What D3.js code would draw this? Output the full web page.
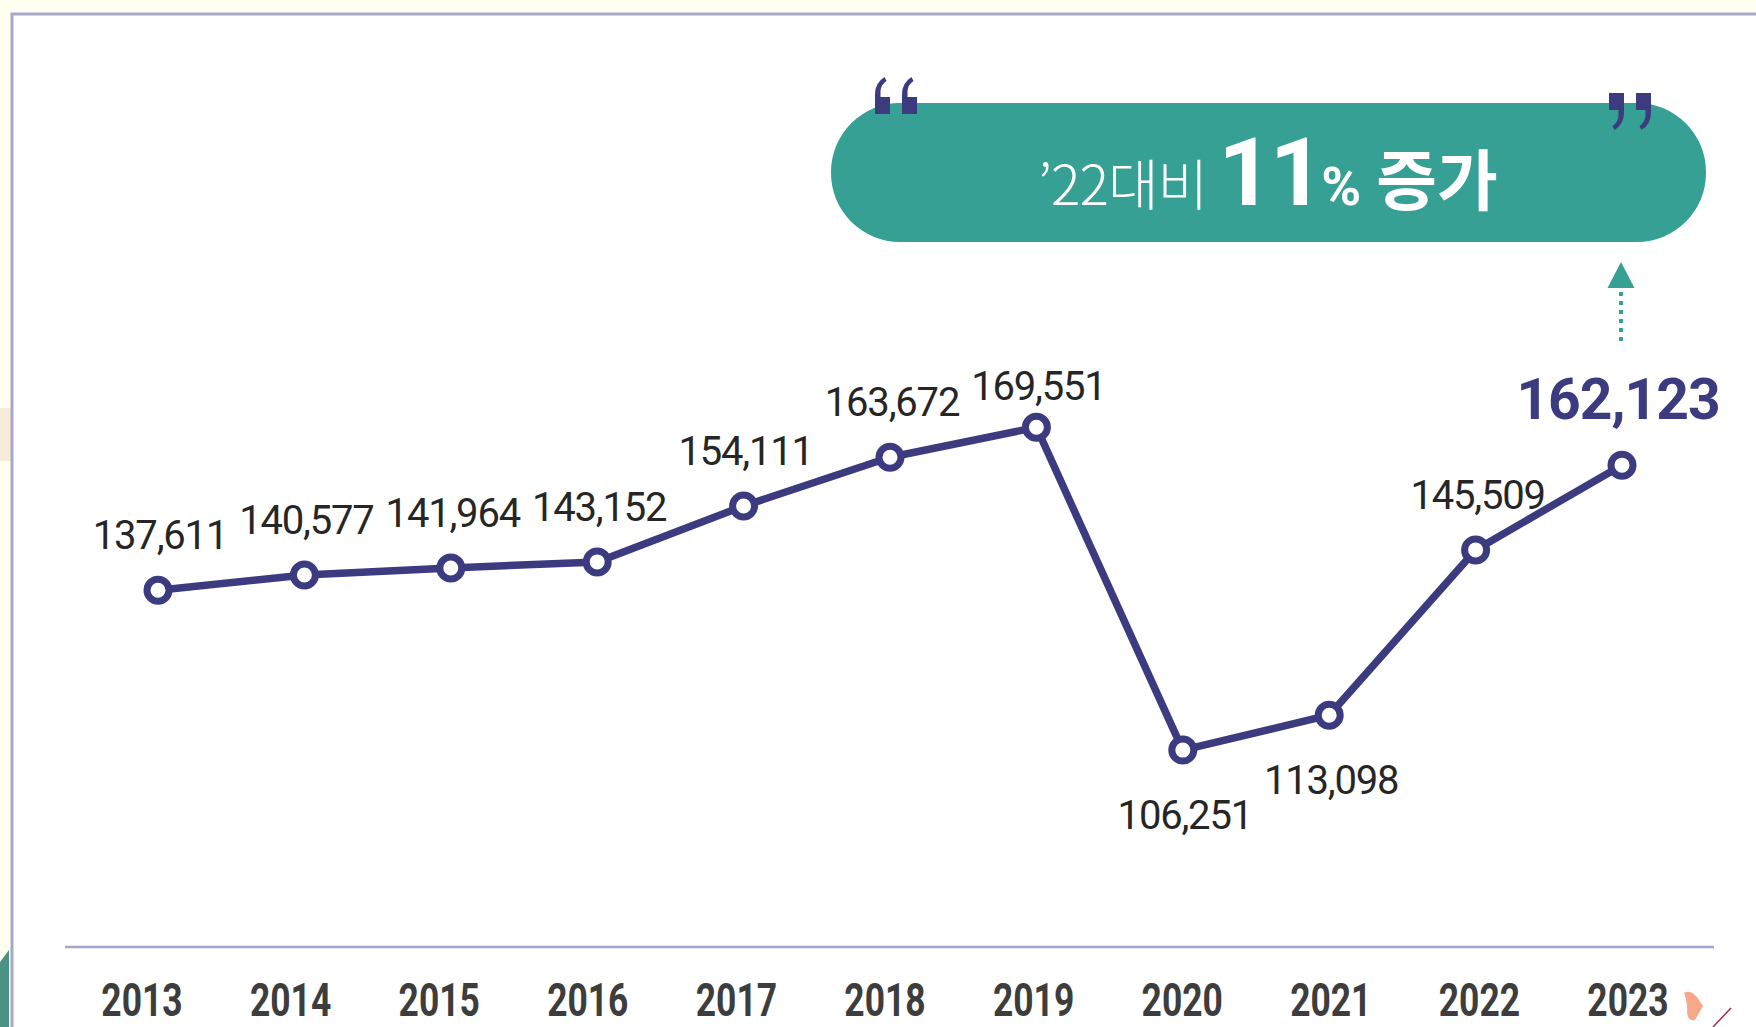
<!DOCTYPE html>
<html>
<head>
<meta charset="utf-8">
<script src="https://cdn.jsdelivr.net/npm/d3@7"></script>
<style>
  html, body { margin: 0; padding: 0; background: #fffef1; }
  svg { display: block; }
</style>
</head>
<body>
<svg id="chart"></svg>
<script>
// DATA
const years = [2013, 2014, 2015, 2016, 2017, 2018, 2019, 2020, 2021, 2022, 2023];
const visitors = [137611, 140577, 141964, 143152, 154111, 163672, 169551, 106251, 113098, 145509, 162123];
const calloutPrefix = "’22대비 ";
const calloutNumber = "11";
const calloutUnit = "%";
const calloutSuffix = " 증가";

const width = 1756;
const height = 1027;
const navy = "#3c3b80";
const teal = "#35a093";

const data = years.map((y, i) => ({ year: y, value: visitors[i] }));
const last = data[data.length - 1];

const svg = d3.select("#chart")
    .attr("width", width)
    .attr("height", height);

// BACKGROUND / FRAME
svg.append("rect")
    .attr("width", width).attr("height", height)
    .attr("fill", "#fffef1");
svg.append("rect")
    .attr("x", 0).attr("y", 408).attr("width", 11).attr("height", 53)
    .attr("fill", "#f5ecd9");
svg.append("path")
    .attr("d", "M0,962 L9,950 L9,1027 L0,1027 Z")
    .attr("fill", "#4a9384");
svg.append("rect")
    .attr("x", 12).attr("y", 14).attr("width", width).attr("height", height)
    .attr("fill", "#ffffff")
    .attr("stroke", "#a7a7c9")
    .attr("stroke-width", 3);

// SCALES
const xScale = d3.scalePoint()
    .domain(years)
    .range([158, 1622]);

const yearScale = d3.scalePoint()
    .domain(years)
    .range([142, 1628]);

const yScale = d3.scaleLinear()
    .domain([100000, 170000])
    .range([782, 425]);

// AXIS LINE + YEAR LABELS
svg.append("line")
    .attr("x1", 65).attr("x2", 1714)
    .attr("y1", 947).attr("y2", 947)
    .attr("stroke", "#a3a3c9")
    .attr("stroke-width", 2.5);

svg.selectAll("text.year")
    .data(years)
    .join("text")
    .attr("class", "year")
    .attr("transform", d => `translate(${yearScale(d)}, 1016) scale(0.77, 1)`)
    .attr("text-anchor", "middle")
    .attr("font-family", "Roboto")
    .attr("font-weight", 700)
    .attr("font-size", 46)
    .attr("fill", "#3d3d3d")
    .text(d => d);

// decorative bits at bottom right
svg.append("path")
    .attr("d", "M1684,993 Q1690,989 1697,997 L1703,1006 L1695,1020 Q1688,1022 1687,1012 Q1688,1004 1684,993 Z")
    .attr("fill", "#f7a88a");
svg.append("line")
    .attr("x1", 1713).attr("y1", 1027).attr("x2", 1731).attr("y2", 1008)
    .attr("stroke", "#9b2f4a").attr("stroke-width", 1.5);

// LINE
const line = d3.line()
    .x(d => xScale(d.year))
    .y(d => yScale(d.value));

svg.append("path")
    .datum(data)
    .attr("d", line)
    .attr("fill", "none")
    .attr("stroke", navy)
    .attr("stroke-width", 7.5)
    .attr("stroke-linejoin", "round");

svg.selectAll("circle.pt")
    .data(data)
    .join("circle")
    .attr("class", "pt")
    .attr("cx", d => xScale(d.year))
    .attr("cy", d => yScale(d.value))
    .attr("r", 11)
    .attr("fill", "#fff")
    .attr("stroke", navy)
    .attr("stroke-width", 7);

// VALUE LABELS (below for the dip years, closer for the peak)
const belowYears = [2020, 2021];
const labelDy = d => belowYears.includes(d.year) ? 79 : (d.year === 2019 ? -27 : -41);

svg.selectAll("text.val")
    .data(data.slice(0, -1))
    .join("text")
    .attr("class", "val")
    .attr("x", d => xScale(d.year) + 2)
    .attr("y", d => yScale(d.value) + labelDy(d))
    .attr("text-anchor", "middle")
    .attr("font-family", "Roboto")
    .attr("font-size", 40)
    .attr("letter-spacing", -1.2)
    .attr("fill", "#262626")
    .text(d => d3.format(",")(d.value));

svg.append("text")
    .attr("x", xScale(last.year) - 4)
    .attr("y", yScale(last.value) - 46)
    .attr("text-anchor", "middle")
    .attr("font-family", "Roboto")
    .attr("font-weight", 700)
    .attr("font-size", 57)
    .attr("letter-spacing", -1)
    .attr("fill", navy)
    .text(d3.format(",")(last.value));

// ARROW UP
const ax = xScale(last.year) - 1;
svg.append("line")
    .attr("x1", ax).attr("x2", ax)
    .attr("y1", 341).attr("y2", 290)
    .attr("stroke", teal)
    .attr("stroke-width", 4)
    .attr("stroke-dasharray", "4 5");
svg.append("path")
    .attr("d", `M${ax},262 L${ax + 13.5},288 L${ax - 13.5},288 Z`)
    .attr("fill", teal);

// CALLOUT
svg.append("rect")
    .attr("x", 831).attr("y", 103)
    .attr("width", 875).attr("height", 139)
    .attr("rx", 69).attr("ry", 69)
    .attr("fill", teal);

const callout = svg.append("text")
    .attr("x", 1268)
    .attr("y", 205)
    .attr("text-anchor", "middle")
    .attr("fill", "#fff");
callout.append("tspan")
    .attr("font-family", "Noto Sans CJK KR")
    .attr("font-weight", 300)
    .attr("font-size", 55)
    .attr("letter-spacing", -1)
    .text(calloutPrefix);
callout.append("tspan")
    .attr("font-family", "Roboto")
    .attr("font-weight", 700)
    .attr("font-size", 95)
    .attr("letter-spacing", -3)
    .text(calloutNumber);
callout.append("tspan")
    .attr("font-family", "Roboto")
    .attr("font-weight", 700)
    .attr("font-size", 54)
    .text(calloutUnit);
callout.append("tspan")
    .attr("font-family", "Noto Sans CJK KR")
    .attr("font-weight", 700)
    .attr("font-size", 66)
    .text(calloutSuffix);

// quote marks: block body with a curved tail
const quoteMark = "M0,0 L15,0 L15,-17 L5.5,-17 L5.5,-22 Q5.5,-29 11.5,-33 L9.5,-37 Q0,-31 0,-20 Z";
[[875, 114, 0], [902, 114, 0], [1624, 93, 180], [1651, 93, 180]].forEach(([qx, qy, rot]) => {
    svg.append("path")
        .attr("d", quoteMark)
        .attr("transform", `translate(${qx}, ${qy}) rotate(${rot})`)
        .attr("fill", navy);
});
</script>
</body>
</html>
